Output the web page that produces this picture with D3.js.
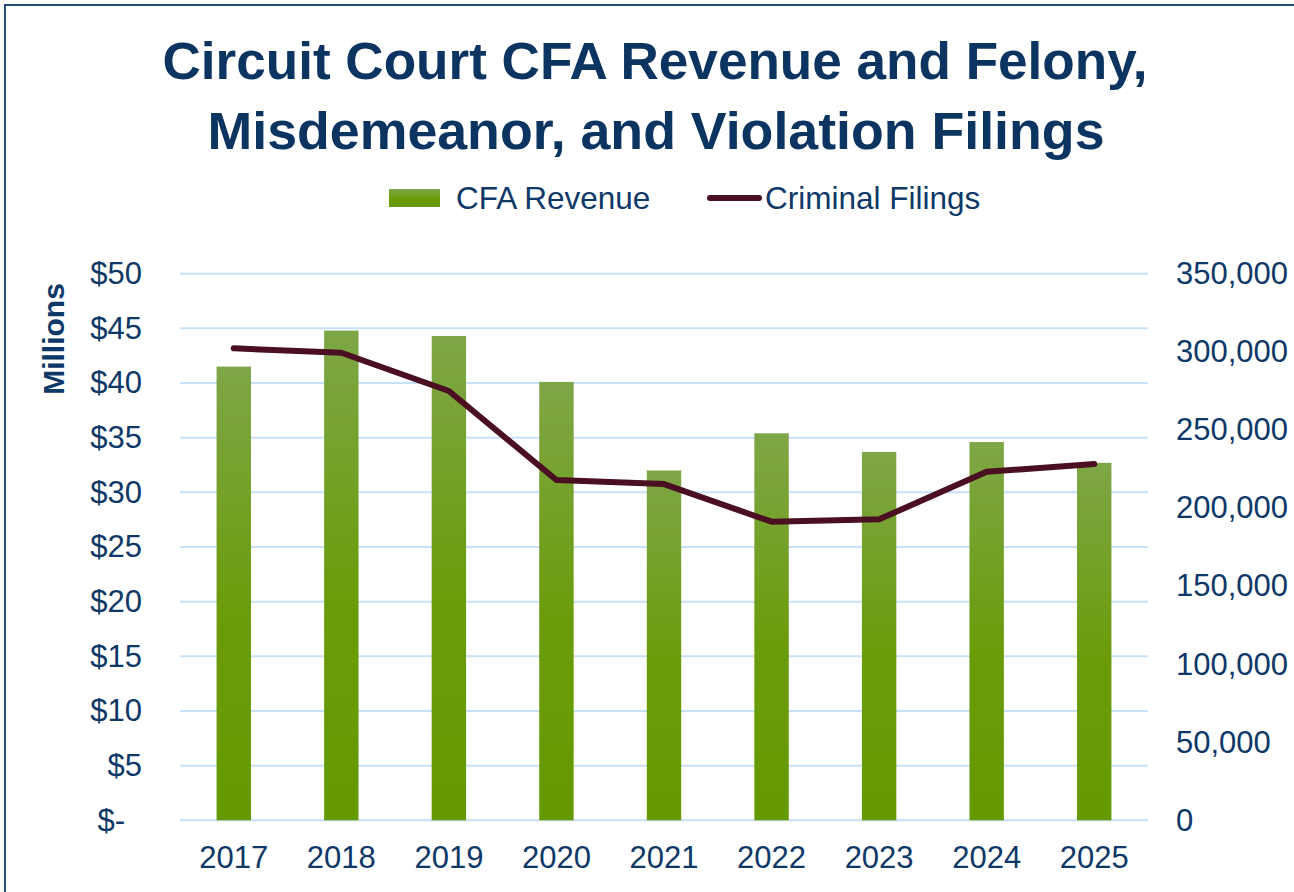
<!DOCTYPE html>
<html>
<head>
<meta charset="utf-8">
<script src="https://cdn.jsdelivr.net/npm/d3@7"></script>
<style>
  html, body { margin: 0; padding: 0; background: #fff; }
  svg { display: block; }
  text { font-family: "Liberation Sans", Arial, sans-serif; }
</style>
</head>
<body>
<svg id="chart" width="1294" height="892"></svg>
<script>
const years = ["2017", "2018", "2019", "2020", "2021", "2022", "2023", "2024", "2025"];
const cfaRevenue = [41.5, 44.8, 44.3, 40.1, 32.0, 35.4, 33.7, 34.6, 32.7];
const criminalFilings = [302200, 299400, 274900, 217900, 215300, 191200, 192700, 223200, 228100];
const leftTicks = [0, 5, 10, 15, 20, 25, 30, 35, 40, 45, 50];
const rightTicks = [0, 50000, 100000, 150000, 200000, 250000, 300000, 350000];
const titleLines = ["Circuit Court CFA Revenue and Felony,", "Misdemeanor, and Violation Filings"];

const textColor = "#0d3867";
const svg = d3.select("#chart");

// frame
svg.append("rect").attr("x", 5).attr("y", 5).attr("width", 1320).attr("height", 920)
  .attr("fill", "none").attr("stroke", "#24507f").attr("stroke-width", 2);

// gradient
const defs = svg.append("defs");
const grad = defs.append("linearGradient").attr("id", "barGrad")
  .attr("x1", 0).attr("y1", 0).attr("x2", 0).attr("y2", 1);
grad.append("stop").attr("offset", "0%").attr("stop-color", "#7ea647");
grad.append("stop").attr("offset", "55%").attr("stop-color", "#6a9c0a");
grad.append("stop").attr("offset", "100%").attr("stop-color", "#659900");

// title
svg.append("text").attr("x", 655).attr("y", 79).attr("text-anchor", "middle")
  .attr("font-size", 51).attr("font-weight", "bold").attr("fill", "#0c3461")
  .attr("textLength", 985).attr("lengthAdjust", "spacingAndGlyphs")
  .text(titleLines[0]);
svg.append("text").attr("x", 656).attr("y", 149).attr("text-anchor", "middle")
  .attr("font-size", 51).attr("font-weight", "bold").attr("fill", "#0c3461")
  .attr("textLength", 897).attr("lengthAdjust", "spacingAndGlyphs")
  .text(titleLines[1]);

// legend
svg.append("rect").attr("x", 389).attr("y", 189).attr("width", 51).attr("height", 18)
  .attr("fill", "url(#barGrad)");
svg.append("text").attr("x", 456).attr("y", 209).attr("font-size", 31.5).attr("fill", textColor)
  .text("CFA Revenue");
svg.append("line").attr("x1", 710).attr("x2", 759).attr("y1", 198).attr("y2", 198)
  .attr("stroke", "#4a0f20").attr("stroke-width", 6).attr("stroke-linecap", "round");
svg.append("text").attr("x", 765).attr("y", 209).attr("font-size", 31.5).attr("fill", textColor)
  .text("Criminal Filings");

// scales
const plotL = 180, plotR = 1148, plotT = 273.7, plotB = 820.3;
const x = d3.scaleBand().domain(years).range([plotL, plotR]).paddingInner(0.68).paddingOuter(0.34);
const yL = d3.scaleLinear().domain([0, 50]).range([plotB, plotT]);
const yR = d3.scaleLinear().domain([0, 350000]).range([plotB, plotT]);

// gridlines
svg.append("g").selectAll("line").data(leftTicks).join("line")
  .attr("x1", plotL).attr("x2", plotR)
  .attr("y1", d => yL(d)).attr("y2", d => yL(d))
  .attr("stroke", "#c8e1fa").attr("stroke-width", 2);

// bars
svg.append("g").selectAll("rect").data(years).join("rect")
  .attr("x", d => x(d)).attr("width", x.bandwidth())
  .attr("y", (d, i) => yL(cfaRevenue[i]))
  .attr("height", (d, i) => yL(0) - yL(cfaRevenue[i]))
  .attr("fill", "url(#barGrad)");

// line
const line = d3.line().x((d, i) => x(years[i]) + x.bandwidth() / 2).y(d => yR(d));
svg.append("path").datum(criminalFilings).attr("d", line)
  .attr("fill", "none").attr("stroke", "#4a0f20").attr("stroke-width", 6)
  .attr("stroke-linecap", "round").attr("stroke-linejoin", "round");

// left axis
const axL = svg.append("g").attr("transform", `translate(142,0)`)
  .call(d3.axisLeft(yL).tickValues(leftTicks).tickSize(0).tickPadding(0)
    .tickFormat(d => d === 0 ? "$-" : "$" + d));
axL.select(".domain").remove();
axL.selectAll("text").attr("font-size", 31).attr("fill", textColor)
  .attr("font-family", "Liberation Sans, Arial, sans-serif");
axL.selectAll(".tick").filter(d => d === 0).select("text").attr("x", -17);

// right axis
const axR = svg.append("g").attr("transform", `translate(1176,0)`)
  .call(d3.axisRight(yR).tickValues(rightTicks).tickSize(0).tickPadding(0)
    .tickFormat(d3.format(",")));
axR.select(".domain").remove();
axR.selectAll("text").attr("font-size", 31).attr("fill", textColor)
  .attr("font-family", "Liberation Sans, Arial, sans-serif");

// bottom axis
const axB = svg.append("g").attr("transform", `translate(0,${plotB})`)
  .call(d3.axisBottom(x).tickSize(0).tickPadding(0));
axB.select(".domain").remove();
axB.selectAll("text").attr("font-size", 31).attr("fill", textColor)
  .attr("font-family", "Liberation Sans, Arial, sans-serif")
  .attr("dy", null).attr("y", 48);

// y axis title
svg.append("text").attr("transform", "translate(64,339) rotate(-90)")
  .attr("text-anchor", "middle").attr("font-size", 30).attr("font-weight", "bold")
  .attr("fill", textColor).text("Millions");
</script>
</body>
</html>
